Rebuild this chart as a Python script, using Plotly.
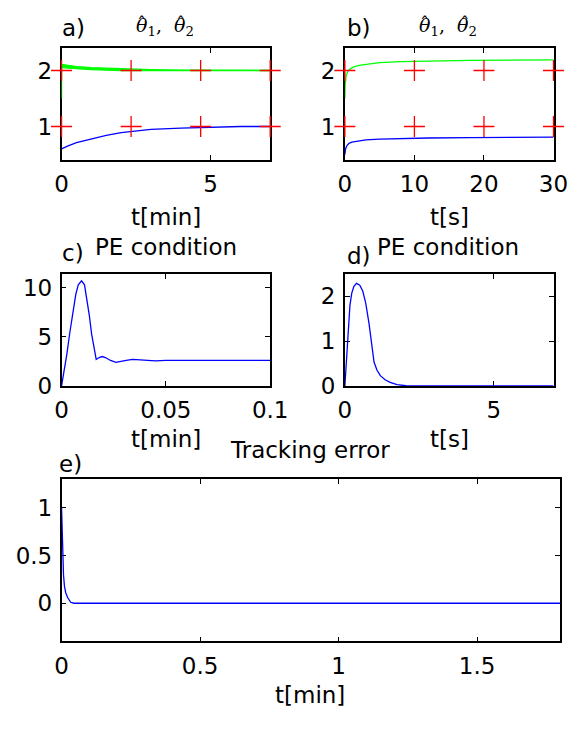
import plotly.graph_objects as go

W, H = 583, 729

# ---------------- data ----------------
# panel a (t in min)
a_th1_t = [0, 0.2, 0.5, 1, 1.5, 2, 2.5, 3, 4, 5, 6, 7]
a_th1_v = [0.6, 0.65, 0.71, 0.78, 0.84, 0.89, 0.92, 0.95, 0.97, 0.99, 1.0, 1.0]
a_th2_t = [0, 0.5, 1, 2, 3, 4, 5, 7]
a_th2_hi = [2.11, 2.07, 2.05, 2.03, 2.015, 2.005, 2.0, 2.0]
a_th2_lo = [2.05, 2.03, 2.015, 2.0, 1.995, 2.0, 2.0, 2.0]
a_th2_start = [1.5, 2.1]
a_true_t = [0, 7/3, 14/3, 7]
true_th1 = 1
true_th2 = 2

# panel b (t in s)
b_th1_t = [0, 0.1, 0.3, 0.6, 1, 2, 3, 5, 8, 12, 18, 24, 30]
b_th1_v = [0.5, 0.6, 0.66, 0.7, 0.72, 0.745, 0.76, 0.775, 0.785, 0.795, 0.8, 0.805, 0.81]
b_th2_t = [0, 0.05, 0.2, 0.5, 0.8, 1.2, 2, 3, 5, 8, 12, 18, 24, 30]
b_th2_v = [1.5, 1.75, 1.92, 2.0, 2.03, 2.06, 2.09, 2.11, 2.14, 2.16, 2.17, 2.18, 2.185, 2.19]
b_true_t = [0, 10, 20, 30]

# panel c (t in min)
c_t = [0, 0.001, 0.0025, 0.004, 0.0055, 0.0068, 0.008, 0.0096, 0.011, 0.0121, 0.0133,
       0.0144, 0.0155, 0.0166, 0.018, 0.0195, 0.021, 0.0235, 0.026, 0.028, 0.031, 0.034,
       0.037, 0.04, 0.045, 0.05, 0.06, 0.07, 0.08, 0.09, 0.1]
c_v = [0, 1.2, 3.2, 5.5, 7.8, 9.3, 10.3, 10.7, 10.3, 9.0, 7.2, 5.3, 3.8, 2.7, 2.9, 3.0,
       2.9, 2.6, 2.4, 2.45, 2.6, 2.7, 2.65, 2.6, 2.55, 2.6, 2.6, 2.6, 2.6, 2.6, 2.6]

# panel d (t in s)
d_t = [0, 0.03, 0.07, 0.12, 0.17, 0.23, 0.3, 0.39, 0.5, 0.6, 0.7, 0.81, 0.9, 0.98, 1.08,
       1.19, 1.35, 1.52, 1.75, 2.05, 2.5, 7]
d_v = [0, 0.35, 0.8, 1.4, 1.8, 2.07, 2.22, 2.29, 2.25, 2.12, 1.85, 1.4, 0.95, 0.53, 0.35,
       0.23, 0.14, 0.08, 0.03, 0.005, 0, 0]

# panel e (t in min)
e_t = [0, 0.002, 0.0045, 0.007, 0.0104, 0.015, 0.022, 0.033, 0.045, 0.1, 0.5, 1, 1.5, 1.8]
e_v = [1.0, 0.75, 0.45, 0.3, 0.18, 0.11, 0.06, 0.01, 0.0, 0, 0, 0, 0, 0]

# ---------------- geometry ----------------
def px_x(p):
    return p / W

def px_y(p):
    return 1 - p / H

BLUE = "#0000ff"
GREEN = "#00ff00"
RED = "#ff0000"
FONT = "DejaVu Sans, sans-serif"
FS = 23

fig = go.Figure()

def line(x, y, xa, ya, color, **kw):
    fig.add_trace(go.Scatter(x=x, y=y, xaxis=xa, yaxis=ya, mode="lines",
                             line=dict(color=color, width=1.3), showlegend=False,
                             hoverinfo="skip", **kw))

def crosses(tx, xa, ya):
    for v in (true_th1, true_th2):
        fig.add_trace(go.Scatter(x=tx, y=[v] * len(tx), xaxis=xa, yaxis=ya, mode="markers",
                                 marker=dict(symbol="cross-thin", size=15,
                                             line=dict(color=RED, width=1.3)),
                                 cliponaxis=False, showlegend=False, hoverinfo="skip"))

# panel a
line(a_th2_t, a_th2_lo, "x", "y", GREEN)
line(a_th2_t, a_th2_hi, "x", "y", GREEN, fill="tonexty", fillcolor=GREEN)
line([0, 0], a_th2_start, "x", "y", GREEN)
line(a_th1_t, a_th1_v, "x", "y", BLUE)
crosses(a_true_t, "x", "y")

# panel b
line(b_th2_t, b_th2_v, "x2", "y2", GREEN)
line(b_th1_t, b_th1_v, "x2", "y2", BLUE)
crosses(b_true_t, "x2", "y2")

# panel c
line(c_t, c_v, "x3", "y3", BLUE)
# panel d
line(d_t, d_v, "x4", "y4", BLUE)
# panel e
line(e_t, e_v, "x5", "y5", BLUE)

def ax(domain, rng, ticks, labels=None, anchor=None):
    d = dict(domain=domain, range=rng, tickvals=ticks, showgrid=False, zeroline=False,
             showline=True, linecolor="black", linewidth=1.5, mirror="ticks",
             ticks="inside", ticklen=5, tickwidth=1, tickcolor="black",
             tickfont=dict(family=FONT, size=FS, color="black"), anchor=anchor,
             fixedrange=True, ticklabelstandoff=3, layer="below traces")
    if labels is not None:
        d["ticktext"] = labels
    return d

xa_L = [px_x(57), px_x(275)]
xa_R = [px_x(353), px_x(571)]
ya_T = [px_y(163), px_y(49)]
ya_M = [px_y(393), px_y(279)]

fig.update_layout(
    width=W, height=H, autosize=False, margin=dict(l=0, r=0, t=0, b=0),
    paper_bgcolor="white", plot_bgcolor="white",
    xaxis=ax(xa_L, [0, 7], [0, 5], anchor="y"),
    yaxis=ax(ya_T, [0.4, 2.4], [1, 2], anchor="x"),
    xaxis2=ax(xa_R, [0, 30], [0, 10, 20, 30], anchor="y2"),
    yaxis2=ax(ya_T, [0.4, 2.4], [1, 2], anchor="x2"),
    xaxis3=ax(xa_L, [0, 0.1], [0, 0.05, 0.1], ["0", "0.05", "0.1"], anchor="y3"),
    yaxis3=ax(ya_M, [0, 11.4], [0, 5, 10], anchor="x3"),
    xaxis4=ax(xa_R, [0, 7], [0, 5], anchor="y4"),
    yaxis4=ax(ya_M, [0, 2.5], [0, 1, 2], anchor="x4"),
    xaxis5=ax([px_x(57), px_x(578)], [0, 1.8], [0, 0.5, 1, 1.5], ["0", "0.5", "1", "1.5"], anchor="y5"),
    yaxis5=ax([px_y(653), px_y(488)], [-0.4, 1.3], [0, 0.5, 1], ["0", "0.5", "1"], anchor="x5"),
)

def text(s, x, y, xanchor="center", size=FS, family=FONT):
    fig.add_annotation(text=s, x=px_x(x), y=px_y(y), xref="paper", yref="paper",
                       xanchor=xanchor, yanchor="middle", showarrow=False,
                       font=dict(family=family, size=size, color="black"))

SERIF = "DejaVu Serif, serif"
theta = "<i>\u03b8</i><sub>1</sub>,&nbsp;&nbsp;<i>\u03b8</i><sub>2</sub>"
text("a)", 55, 28, "left")
text(theta, 165, 27, size=19, family=SERIF)
text("\u02c6", 141, 24, size=19, family=SERIF)
text("\u02c6", 182, 24, size=19, family=SERIF)
text("b)", 353, 28, "left")
text(theta, 461, 27, size=19, family=SERIF)
text("\u02c6", 437, 24, size=19, family=SERIF)
text("\u02c6", 478, 24, size=19, family=SERIF)
text("t[min]", 166, 221)
text("t[s]", 462, 221)
text("c)", 55, 258, "left")
text("PE condition", 166, 251)
text("d)", 353, 261, "left")
text("PE condition", 461, 251)
text("t[min]", 166, 447)
text("t[s]", 462, 447)
text("Tracking error", 317, 458)
text("e)", 52, 472, "left")
text("t[min]", 317, 708)

fig.write_html("out.html")
